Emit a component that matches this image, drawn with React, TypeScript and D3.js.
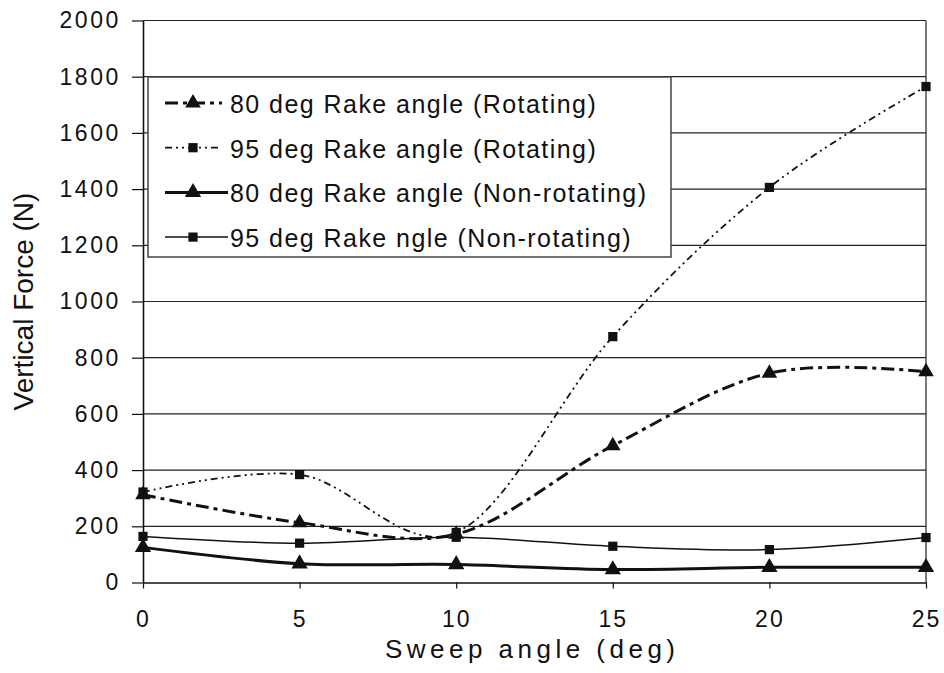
import React, { useEffect, useRef } from 'react';
import * as d3 from 'd3';

// values
const sweepAngles = [0, 5, 10, 15, 20, 25];
const rake80Rotating = [312, 213, 172, 487, 745, 750];
const rake95Rotating = [322, 384, 178, 875, 1406, 1765];
const rake80NonRotating = [125, 67, 64, 46, 54, 54];
const rake95NonRotating = [164, 140, 161, 129, 117, 160];

const legendLabels = [
  '80 deg Rake angle (Rotating)',
  '95 deg Rake angle (Rotating)',
  '80 deg Rake angle (Non-rotating)',
  '95 deg Rake ngle (Non-rotating)',
];
const yTicks = [0, 200, 400, 600, 800, 1000, 1200, 1400, 1600, 1800, 2000];
const xTicks = [0, 5, 10, 15, 20, 25];

const FONT = "'Liberation Sans', Arial, sans-serif";
const INK = '#111';

const App: React.FC = () => {
  const svgRef = useRef<SVGSVGElement>(null);

  useEffect(() => {
    if (!svgRef.current) return;
    document.body.style.margin = '0';

    const svg = d3.select(svgRef.current);
    svg.selectAll('*').remove(); // clear previous renders

    const x = d3.scaleLinear().domain([0, 25]).range([143, 926]);
    const y = d3.scaleLinear().domain([0, 2000]).range([582.5, 20.5]);

    // horizontal gridlines + frame
    svg.append('g')
      .selectAll('line')
      .data(yTicks.filter(d => d > 0))
      .join('line')
      .attr('x1', x(0))
      .attr('x2', x(25))
      .attr('y1', d => y(d))
      .attr('y2', d => y(d))
      .attr('stroke', '#222')
      .attr('stroke-width', 1.2);

    svg.append('line')
      .attr('x1', x(25)).attr('x2', x(25))
      .attr('y1', y(0)).attr('y2', y(2000))
      .attr('stroke', '#222')
      .attr('stroke-width', 1.2);

    // y axis
    const yAxis = svg.append('g')
      .attr('transform', `translate(${x(0)},0)`)
      .call(d3.axisLeft(y).tickValues(yTicks).tickFormat(d3.format('d'))
        .tickSizeInner(11).tickSizeOuter(0).tickPadding(11));
    yAxis.select('.domain').attr('stroke', INK).attr('stroke-width', 1.6);
    yAxis.selectAll('line').attr('stroke', INK).attr('stroke-width', 1.2);
    yAxis.selectAll('text')
      .attr('fill', INK)
      .style('font-family', FONT)
      .style('font-size', '23px')
      .attr('letter-spacing', 2.6);

    // x axis
    const xAxis = svg.append('g')
      .attr('transform', `translate(0,${y(0)})`)
      .call(d3.axisBottom(x).tickValues(xTicks).tickFormat(d3.format('d'))
        .tickSizeInner(6).tickSizeOuter(0).tickPadding(22));
    xAxis.select('.domain').attr('stroke', INK).attr('stroke-width', 1.6);
    xAxis.selectAll('line').attr('stroke', INK).attr('stroke-width', 1.2);
    xAxis.selectAll('text')
      .attr('fill', INK)
      .style('font-family', FONT)
      .style('font-size', '23px')
      .attr('letter-spacing', 2);

    // axis titles
    svg.append('text')
      .attr('x', 530)
      .attr('y', 658)
      .attr('text-anchor', 'middle')
      .attr('fill', INK)
      .attr('textLength', 290)
      .attr('lengthAdjust', 'spacing')
      .style('font-family', FONT)
      .style('font-size', '26px')
      .text('Sweep angle (deg)');

    svg.append('text')
      .attr('transform', 'translate(33,301.5) rotate(-90)')
      .attr('text-anchor', 'middle')
      .attr('fill', INK)
      .style('font-family', FONT)
      .style('font-size', '28px')
      .text('Vertical Force (N)');

    // series
    const series = [
      { values: rake80Rotating, dash: '13,5,4,5', width: 3, symbol: d3.symbolTriangle, size: 105 },
      { values: rake95Rotating, dash: '7,4,2,4,2,4', width: 1.8, symbol: d3.symbolSquare, size: 85 },
      { values: rake80NonRotating, dash: null, width: 3, symbol: d3.symbolTriangle, size: 115 },
      { values: rake95NonRotating, dash: null, width: 1.5, symbol: d3.symbolSquare, size: 85 },
    ];

    const line = d3.line<number>()
      .x((_, i) => x(sweepAngles[i]))
      .y(d => y(d))
      .curve(d3.curveCardinal.tension(0));

    series.forEach(s => {
      svg.append('path')
        .datum(s.values)
        .attr('d', line)
        .attr('fill', 'none')
        .attr('stroke', INK)
        .attr('stroke-width', s.width)
        .attr('stroke-dasharray', s.dash);

      svg.append('g')
        .selectAll('path')
        .data(s.values)
        .join('path')
        .attr('transform', (d, i) => `translate(${x(sweepAngles[i])},${y(d)})`)
        .attr('d', d3.symbol(s.symbol, s.size)())
        .attr('fill', INK);
    });

    // legend
    const legend = svg.append('g');
    legend.append('rect')
      .attr('x', 148)
      .attr('y', 77)
      .attr('width', 523)
      .attr('height', 180)
      .attr('fill', '#fff')
      .attr('stroke', '#444')
      .attr('stroke-width', 1.5);

    series.forEach((s, i) => {
      const base = 113 + i * 44.7;
      const cy = base - 10;
      const row = legend.append('g');
      row.append('line')
        .attr('x1', 165)
        .attr('x2', s.dash ? 222 : 228)
        .attr('y1', cy)
        .attr('y2', cy)
        .attr('stroke', INK)
        .attr('stroke-width', s.width)
        .attr('stroke-dasharray', s.dash);
      row.append('path')
        .attr('transform', `translate(193,${cy})`)
        .attr('d', d3.symbol(s.symbol, s.size)())
        .attr('fill', INK);
      row.append('text')
        .attr('x', 230)
        .attr('y', base)
        .attr('fill', INK)
        .attr('letter-spacing', 1.45)
        .style('font-family', FONT)
        .style('font-size', '25px')
        .text(legendLabels[i]);
    });
  }, []);

  return <svg ref={svgRef} width={944} height={673} style={{ display: 'block', background: '#fff' }}></svg>;
};

export default App;
